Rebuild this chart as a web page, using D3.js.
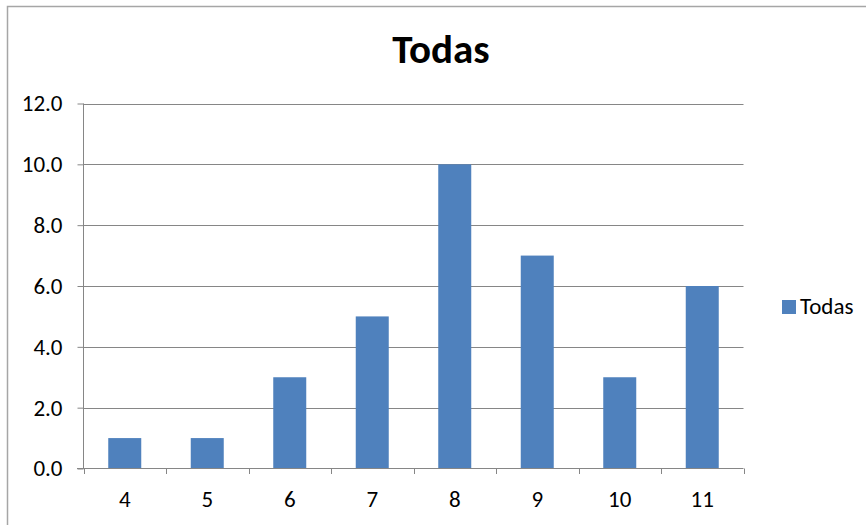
<!DOCTYPE html>
<html><head><meta charset="utf-8">
<script src="https://cdn.jsdelivr.net/npm/d3@7"></script>
<style>body{margin:0;background:#fff}svg{display:block}text{font-family:Carlito,Lato,"Open Sans",sans-serif}</style>
</head><body>
<svg id="c" width="866" height="525"></svg>
<script>
const categories = ["4","5","6","7","8","9","10","11"];
const values = [1,1,3,5,10,7,3,6];
const yTicks = [0,2,4,6,8,10,12];
const seriesName = "Todas";
const title = "Todas";

const svg = d3.select("#c");
const W=866,H=525;
svg.append("rect").attr("x",7.5).attr("y",6.5).attr("width",W).attr("height",H)
  .attr("fill","#fff").attr("stroke","#a6a6a6").attr("stroke-width",1.5);

const x = d3.scaleBand().domain(categories).range([83.5,743.5]).paddingInner(0.6).paddingOuter(0.3);
const xb = d3.scaleBand().domain(categories).range([83.5,743.5]);
const y = d3.scaleLinear().domain([0,12]).range([468.5,103.5]);

svg.append("g").selectAll("line").data(yTicks.filter(d=>d>0)).join("line")
  .attr("x1",83.5).attr("x2",743.5).attr("y1",d=>Math.round(y(d))+0.5).attr("y2",d=>Math.round(y(d))+0.5)
  .attr("stroke","#868686").attr("stroke-width",1);

svg.append("g").selectAll("rect").data(values).join("rect")
  .attr("x",(d,i)=>x(categories[i]))
  .attr("width",x.bandwidth())
  .attr("y",d=>y(d))
  .attr("height",d=>y(0)-y(d))
  .attr("fill","#4f81bd");

const ya = svg.append("g").attr("transform","translate(83.5,0)")
  .call(d3.axisLeft(y).tickValues(yTicks).tickSize(6).tickPadding(15).tickFormat(d3.format(".1f")));
ya.attr("font-size",null).attr("font-family",null);
ya.select(".domain").attr("stroke","#868686").attr("d","M0,103.5V468.5");
ya.selectAll(".tick line").attr("stroke","#868686");
ya.selectAll("text").style("font-size","23px").attr("fill","#000");

const xa = svg.append("g").attr("transform","translate(0,468.5)")
  .call(d3.axisBottom(xb).tickSize(0).tickPadding(22));
xa.attr("font-size",null).attr("font-family",null);
xa.select(".domain").attr("stroke","#868686").attr("d","M77,0H743.5");
xa.selectAll("text").style("font-size","23px").attr("fill","#000");
svg.append("g").selectAll("line").data(categories.concat(["end"])).join("line")
  .attr("x1",(d,i)=>Math.round(83.5+i*xb.bandwidth())+0.5)
  .attr("x2",(d,i)=>Math.round(83.5+i*xb.bandwidth())+0.5)
  .attr("y1",468.5).attr("y2",474).attr("stroke","#868686");

svg.append("text").attr("x",441).attr("y",63).attr("text-anchor","middle")
  .style("font-size","41px").attr("font-weight","bold").text(title);

svg.append("rect").attr("x",782).attr("y",300).attr("width",14).attr("height",14).attr("fill","#4f81bd");
svg.append("text").attr("x",800).attr("y",314).style("font-size","23px").text(seriesName);
</script>
</body></html>
